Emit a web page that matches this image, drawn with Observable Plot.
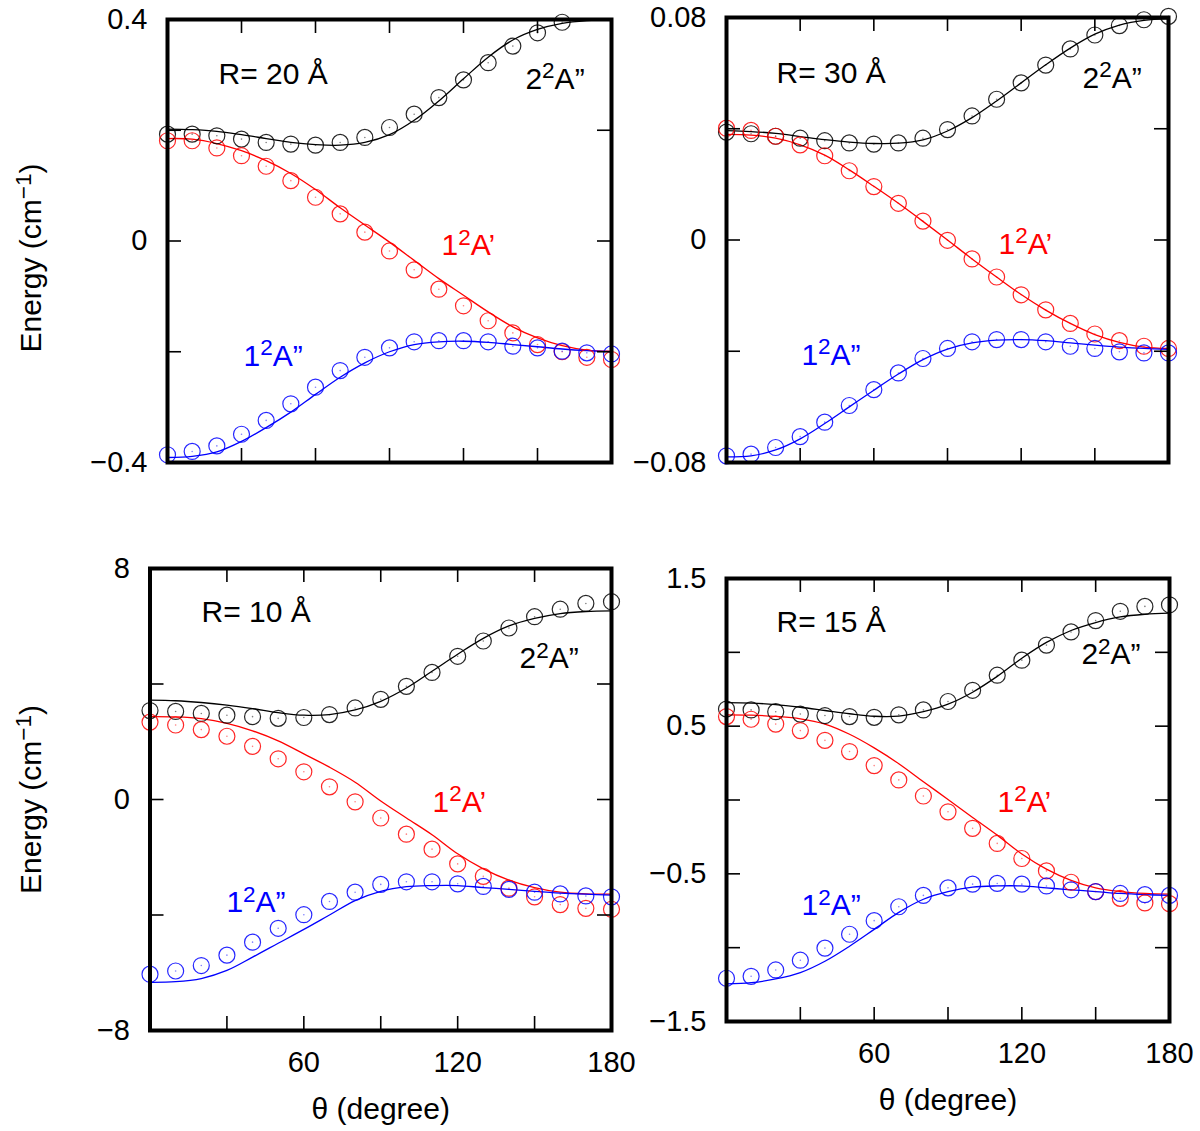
<!DOCTYPE html>
<html>
<head>
<meta charset="utf-8">
<script src="https://cdn.jsdelivr.net/npm/d3@7"></script>
<script src="https://cdn.jsdelivr.net/npm/@observablehq/plot@0.6"></script>
<style>
  body { margin: 0; background: white; }
  #figure { position: relative; width: 1200px; height: 1131px; }
  #figure svg { position: absolute; }
</style>
</head>
<body>
<div id="figure"></div>
<script>
// angle grid shared by every curve (degrees)
const theta = [0, 10, 20, 30, 40, 50, 60, 70, 80, 90, 100, 110, 120, 130, 140, 150, 160, 170, 180];

// R = 20 Å  (pts = circles, fit = solid curve)
const r20_2App_pts = [0.193, 0.193, 0.190, 0.184, 0.178, 0.175, 0.173, 0.178, 0.187, 0.205, 0.229, 0.259, 0.291, 0.322, 0.352, 0.376, 0.395, null, null];
const r20_2App_fit = [0.202, 0.201, 0.198, 0.192, 0.185, 0.178, 0.174, 0.173, 0.178, 0.192, 0.218, 0.253, 0.293, 0.332, 0.363, 0.382, 0.393, 0.398, 0.400];
const r20_1Ap_pts = [0.181, 0.181, 0.168, 0.154, 0.135, 0.109, 0.079, 0.049, 0.016, -0.018, -0.052, -0.087, -0.117, -0.144, -0.166, -0.187, -0.200, -0.210, -0.214];
const r20_1Ap_fit = [0.185, 0.184, 0.176, 0.163, 0.145, 0.122, 0.093, 0.060, 0.029, -0.002, -0.035, -0.068, -0.098, -0.128, -0.155, -0.175, -0.189, -0.197, -0.199];
const r20_1App_pts = [-0.386, -0.380, -0.370, -0.349, -0.324, -0.294, -0.264, -0.234, -0.210, -0.193, -0.182, -0.180, -0.180, -0.182, -0.190, -0.193, -0.199, -0.202, -0.204];
const r20_1App_fit = [-0.391, -0.389, -0.381, -0.362, -0.337, -0.309, -0.277, -0.246, -0.220, -0.200, -0.187, -0.182, -0.181, -0.183, -0.187, -0.191, -0.195, -0.198, -0.200];

// R = 30 Å
const r30_2App_pts = [0.0388, 0.0382, 0.0373, 0.0366, 0.0357, 0.0349, 0.0345, 0.0349, 0.0366, 0.0397, 0.0446, 0.0506, 0.0565, 0.0629, 0.0687, 0.0737, 0.0771, 0.0792, 0.0804];
const r30_2App_fit = [0.0393, 0.0390, 0.0383, 0.0372, 0.0361, 0.0352, 0.0347, 0.0348, 0.0360, 0.0392, 0.0440, 0.0500, 0.0565, 0.0630, 0.0690, 0.0740, 0.0773, 0.0790, 0.0795];
const r30_1Ap_pts = [0.0402, 0.0394, 0.0373, 0.0342, 0.0303, 0.0249, 0.0192, 0.0132, 0.0068, -0.0001, -0.0068, -0.0133, -0.0197, -0.0251, -0.0300, -0.0338, -0.0362, -0.0382, -0.0390];
const r30_1Ap_fit = [0.0380, 0.0377, 0.0366, 0.0342, 0.0305, 0.0252, 0.0193, 0.0132, 0.0067, 0.0000, -0.0068, -0.0133, -0.0196, -0.0252, -0.0300, -0.0340, -0.0368, -0.0385, -0.0390];
const r30_1App_pts = [-0.0776, -0.0770, -0.0746, -0.0707, -0.0655, -0.0595, -0.0538, -0.0478, -0.0426, -0.0390, -0.0366, -0.0358, -0.0358, -0.0366, -0.0382, -0.0390, -0.0402, -0.0406, -0.0406];
const r30_1App_fit = [-0.0780, -0.0776, -0.0755, -0.0715, -0.0660, -0.0600, -0.0540, -0.0482, -0.0430, -0.0392, -0.0370, -0.0360, -0.0358, -0.0362, -0.0370, -0.0378, -0.0385, -0.0390, -0.0393];

// R = 10 Å
const r10_2App_pts = [3.08, 3.05, 2.98, 2.92, 2.87, 2.81, 2.84, 2.94, 3.17, 3.47, 3.92, 4.40, 4.96, 5.49, 5.94, 6.33, 6.59, 6.79, 6.85];
const r10_2App_fit = [3.44, 3.42, 3.36, 3.27, 3.15, 3.01, 2.92, 2.94, 3.10, 3.40, 3.86, 4.44, 5.03, 5.58, 6.01, 6.27, 6.44, 6.51, 6.53];
const r10_1Ap_pts = [2.68, 2.58, 2.42, 2.19, 1.84, 1.41, 0.96, 0.44, -0.08, -0.64, -1.20, -1.72, -2.23, -2.66, -3.07, -3.37, -3.64, -3.77, -3.80];
const r10_1Ap_fit = [2.87, 2.86, 2.80, 2.64, 2.38, 2.03, 1.58, 1.12, 0.60, -0.05, -0.64, -1.22, -1.88, -2.40, -2.79, -3.05, -3.21, -3.27, -3.28];
const r10_1App_pts = [-6.05, -5.94, -5.75, -5.39, -4.94, -4.46, -3.99, -3.53, -3.21, -2.94, -2.85, -2.85, -2.92, -3.01, -3.11, -3.21, -3.27, -3.34, -3.37];
const r10_1App_fit = [-6.33, -6.31, -6.20, -5.92, -5.46, -4.98, -4.50, -4.00, -3.50, -3.18, -3.02, -2.98, -2.98, -3.05, -3.11, -3.18, -3.24, -3.28, -3.31];

// R = 15 Å
const r15_2App_pts = [0.616, 0.610, 0.598, 0.582, 0.572, 0.565, 0.560, 0.577, 0.610, 0.667, 0.743, 0.845, 0.947, 1.049, 1.138, 1.215, 1.278, 1.311, 1.322];
const r15_2App_fit = [0.659, 0.656, 0.646, 0.628, 0.606, 0.584, 0.567, 0.568, 0.598, 0.649, 0.730, 0.837, 0.960, 1.067, 1.148, 1.202, 1.240, 1.258, 1.266];
const r15_1Ap_pts = [0.565, 0.547, 0.514, 0.470, 0.404, 0.328, 0.233, 0.136, 0.027, -0.080, -0.192, -0.294, -0.396, -0.480, -0.557, -0.620, -0.666, -0.697, -0.702];
const r15_1Ap_fit = [0.577, 0.575, 0.566, 0.550, 0.514, 0.445, 0.353, 0.246, 0.124, 0.004, -0.118, -0.238, -0.366, -0.468, -0.544, -0.595, -0.620, -0.633, -0.638];
const r15_1App_pts = [-1.207, -1.194, -1.151, -1.085, -1.003, -0.909, -0.817, -0.723, -0.646, -0.595, -0.570, -0.565, -0.570, -0.582, -0.608, -0.620, -0.633, -0.641, -0.646];
const r15_1App_fit = [-1.245, -1.237, -1.212, -1.169, -1.092, -0.990, -0.876, -0.761, -0.672, -0.621, -0.590, -0.582, -0.582, -0.595, -0.608, -0.620, -0.633, -0.641, -0.646];

// tick values
const xTicks = [30, 60, 90, 120, 150];
const xLabels = [60, 120, 180];

// state names, ^{..} marks a superscript
const state2App = "2^{2}A\u201D";
const state1Ap = "1^{2}A\u2019";
const state1App = "1^{2}A\u201D";

const FONT = "'Liberation Sans', Arial, Helvetica, sans-serif";
const TICK = 14;

// box = svg [left, top, width, height]; frame = [x0, x1, y0, y1] in page pixels
const panels = [
  {
    box: [0, 0, 660, 520], frame: [167, 611, 19, 462],
    y: [-0.4, 0.4], yLabels: [-0.4, 0, 0.4], yTicks: [-0.2, 0, 0.2],
    xAxis: false, yTitleShift: 17,
    series: [
      {color: "black", pts: r20_2App_pts, fit: r20_2App_fit},
      {color: "red", pts: r20_1Ap_pts, fit: r20_1Ap_fit},
      {color: "blue", pts: r20_1App_pts, fit: r20_1App_fit}
    ],
    notes: [
      {text: "R= 20 Å", x: 20.7, y: 0.283, color: "black"},
      {text: state2App, x: 145.1, y: 0.275, color: "black"},
      {text: state1Ap, x: 111.1, y: -0.026, color: "red"},
      {text: state1App, x: 30.8, y: -0.225, color: "blue"}
    ]
  },
  {
    box: [660, 0, 540, 520], frame: [726, 1168, 17, 462],
    y: [-0.08, 0.08], yLabels: [-0.08, 0, 0.08], yTicks: [-0.04, 0, 0.04],
    xAxis: false, yTitleShift: null,
    series: [
      {color: "black", pts: r30_2App_pts, fit: r30_2App_fit},
      {color: "red", pts: r30_1Ap_pts, fit: r30_1Ap_fit},
      {color: "blue", pts: r30_1App_pts, fit: r30_1App_fit}
    ],
    notes: [
      {text: "R= 30 Å", x: 20.4, y: 0.0563, color: "black"},
      {text: state2App, x: 145, y: 0.0548, color: "black"},
      {text: state1Ap, x: 110.8, y: -0.0049, color: "red"},
      {text: state1App, x: 30.5, y: -0.0448, color: "blue"}
    ]
  },
  {
    box: [0, 520, 660, 611], frame: [149.5, 611, 568, 1030],
    y: [-8, 8], yLabels: [-8, 0, 8], yTicks: [-4, 0, 4],
    xAxis: true, yTitleShift: 0,
    series: [
      {color: "black", pts: r10_2App_pts, fit: r10_2App_fit},
      {color: "red", pts: r10_1Ap_pts, fit: r10_1Ap_fit},
      {color: "blue", pts: r10_1App_pts, fit: r10_1App_fit}
    ],
    notes: [
      {text: "R= 10 Å", x: 20.1, y: 6.16, color: "black"},
      {text: state2App, x: 144.1, y: 4.54, color: "black"},
      {text: state1Ap, x: 110.2, y: -0.42, color: "red"},
      {text: state1App, x: 29.8, y: -3.91, color: "blue"}
    ]
  },
  {
    box: [660, 520, 540, 611], frame: [726, 1169, 578, 1021],
    y: [-1.5, 1.5], yLabels: [-1.5, -0.5, 0.5, 1.5], yTicks: [-1, -0.5, 0, 0.5, 1],
    xAxis: true, yTitleShift: null,
    series: [
      {color: "black", pts: r15_2App_pts, fit: r15_2App_fit},
      {color: "red", pts: r15_1Ap_pts, fit: r15_1Ap_fit},
      {color: "blue", pts: r15_1App_pts, fit: r15_1App_fit}
    ],
    notes: [
      {text: "R= 15 Å", x: 20.3, y: 1.141, color: "black"},
      {text: state2App, x: 144.2, y: 0.918, color: "black"},
      {text: state1Ap, x: 110.1, y: -0.078, color: "red"},
      {text: state1App, x: 30.5, y: -0.782, color: "blue"}
    ]
  }
];

const fmt = d => (d < 0 ? "\u2212" : "") + Math.abs(d);

// turn "a^{b}c" text into tspans with a raised, smaller b
function superscripts(svg) {
  svg.querySelectorAll("text").forEach(t => {
    const s = t.textContent;
    if (!s.includes("^{")) return;
    const parts = s.split(/\^\{([^}]*)\}/);
    t.textContent = "";
    parts.forEach((p, i) => {
      if (p === "") return;
      const ts = document.createElementNS("http://www.w3.org/2000/svg", "tspan");
      ts.textContent = p;
      if (i % 2 === 1) {
        ts.setAttribute("font-size", "0.75em");
        ts.setAttribute("dy", "-0.46em");
      } else if (i > 0) {
        ts.setAttribute("dy", "0.345em");
      }
      t.appendChild(ts);
    });
  });
}

function drawPanel(p) {
  const [left, top, width, height] = p.box;
  const [fx0, fx1, fy0, fy1] = p.frame;
  const fw = fx1 - fx0, fh = fy1 - fy0;

  const marks = [];

  // data: solid fit curves, then open circles with their centre dot
  p.series.forEach(s => {
    marks.push(Plot.line(theta, {x: d => d, y: s.fit, stroke: s.color, strokeWidth: 1.3, curve: "catmull-rom"}));
  });
  p.series.forEach(s => {
    marks.push(Plot.dot(theta, {x: d => d, y: s.pts, r: 8, stroke: s.color, strokeWidth: 1.2, strokeOpacity: 0.85}));
    marks.push(Plot.dot(theta, {x: d => d, y: s.pts, r: 0.8, fill: s.color, fillOpacity: 0.5}));
  });

  // mirrored inward ticks on all four sides
  marks.push(Plot.tickY(p.yTicks, {stroke: "black", strokeWidth: 1.6, insetRight: fw - TICK}));
  marks.push(Plot.tickY(p.yTicks, {stroke: "black", strokeWidth: 1.6, insetLeft: fw - TICK}));
  marks.push(Plot.tickX(xTicks, {stroke: "black", strokeWidth: 1.6, insetTop: fh - TICK}));
  marks.push(Plot.tickX(xTicks, {stroke: "black", strokeWidth: 1.6, insetBottom: fh - TICK}));
  marks.push(Plot.frame({stroke: "black", strokeWidth: 4}));

  marks.push(Plot.axisY(p.yLabels, {anchor: "left", tickSize: 0, tickPadding: 20, fontSize: 29, tickFormat: fmt, label: null}));
  if (p.xAxis) {
    marks.push(Plot.axisX(xLabels, {anchor: "bottom", tickSize: 0, tickPadding: 21, fontSize: 29, tickFormat: fmt, label: null}));
    marks.push(Plot.text(["θ (degree)"], {frameAnchor: "bottom", dy: 88, textAnchor: "middle", lineAnchor: "bottom", fontSize: 30}));
  }
  if (p.yTitleShift !== null) {
    marks.push(Plot.text(["Energy (cm^{\u22121})"], {
      frameAnchor: "left", dx: 31 - fx0, dy: p.yTitleShift,
      rotate: -90, textAnchor: "middle", lineAnchor: "middle", fontSize: 30
    }));
  }

  p.notes.forEach(n => {
    marks.push(Plot.text([n], {x: "x", y: "y", text: "text", fill: n.color, fontSize: 30, textAnchor: "start", lineAnchor: "bottom"}));
  });

  const chart = Plot.plot({
    width: width,
    height: height,
    marginLeft: fx0 - left,
    marginRight: left + width - fx1,
    marginTop: fy0 - top,
    marginBottom: top + height - fy1,
    x: {domain: [0, 180], axis: null},
    y: {domain: p.y, axis: null},
    style: {fontFamily: FONT, background: "transparent", overflow: "visible", maxWidth: "none"},
    marks: marks
  });

  superscripts(chart);
  chart.style.left = left + "px";
  chart.style.top = top + "px";
  d3.select("#figure").append(() => chart);
}

panels.forEach(drawPanel);
</script>
</body>
</html>
